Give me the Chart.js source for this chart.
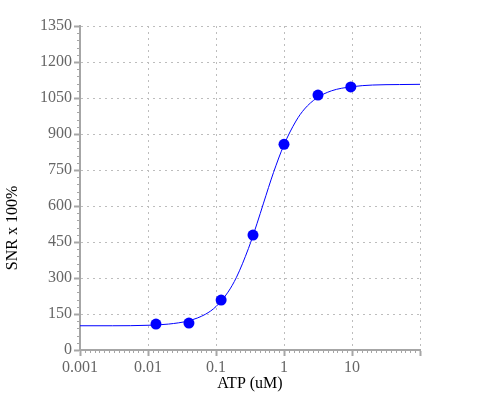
<!DOCTYPE html>
<html>
<head>
<meta charset="utf-8">
<script src="https://cdn.jsdelivr.net/npm/chart.js@4"></script>
<style>
  html, body { margin: 0; padding: 0; background: #fff; }
  #wrap { width: 500px; height: 400px; }
</style>
</head>
<body>
<div id="wrap"><canvas id="chart" width="500" height="400"></canvas></div>
<script>
// measured points
const atpConc = [0.0131, 0.040, 0.119, 0.35, 1.0, 3.16, 9.6];
const snr = [108, 112, 208, 479, 857, 1062, 1096];

// fitted curve
const fitConc = [0.001, 0.003, 0.01, 0.02, 0.04, 0.07, 0.1, 0.15, 0.2, 0.3, 0.4, 0.5, 0.7, 1, 1.5, 2, 3, 5, 10, 20, 50, 100];
const fitSnr = [101, 101, 103, 108, 122, 149, 181, 241, 303, 423, 526, 612, 739, 855, 954, 1004, 1049, 1080, 1097, 1104, 1106, 1107];

const xTicks = [0.001, 0.01, 0.1, 1, 10, 100];
const xTickLabels = ['0.001', '0.01', '0.1', '1', '10', ''];

const AXIS_GRAY = '#a6a6a6';
const GRID_GRAY = '#bdbdbd';

const axisDecor = {
  id: 'axisDecor',
  afterDraw(chart) {
    const { ctx, chartArea: a, scales } = chart;
    const x = scales.x, y = scales.y;
    ctx.save();
    // minor ticks
    ctx.strokeStyle = AXIS_GRAY;
    ctx.lineWidth = 1;
    ctx.setLineDash([]);
    ctx.beginPath();
    for (let i = 0; i < xTicks.length - 1; i++) {
      const p0 = x.getPixelForValue(xTicks[i]);
      const p1 = x.getPixelForValue(xTicks[i + 1]);
      for (let k = 1; k < 14; k++) {
        const px = Math.round(p0 + (p1 - p0) * k / 14) + 0.5;
        ctx.moveTo(px, a.bottom);
        ctx.lineTo(px, a.bottom + 3);
      }
    }
    for (let v = 0; v < 1350; v += 150) {
      const p0 = y.getPixelForValue(v), p1 = y.getPixelForValue(v + 150);
      for (let k = 1; k < 5; k++) {
        const py = Math.round(p0 + (p1 - p0) * k / 5) + 0.5;
        ctx.moveTo(a.left - 3, py);
        ctx.lineTo(a.left, py);
      }
    }
    ctx.stroke();
    // axis titles
    ctx.fillStyle = '#000';
    ctx.font = '16px "Liberation Serif", serif';
    ctx.textAlign = 'center';
    ctx.textBaseline = 'middle';
    ctx.fillText('ATP (uM)', (a.left + a.right) / 2, 384);
    ctx.translate(13, 228);
    ctx.rotate(-Math.PI / 2);
    ctx.fillText('SNR x 100%', 0, 0);
    ctx.restore();
  }
};

const gridOpts = {
  color: GRID_GRAY,
  tickLength: 6,
  tickColor: AXIS_GRAY,
  tickWidth: 2,
  tickBorderDash: [],
};
const borderOpts = { color: AXIS_GRAY, width: 2, dash: [2, 4] };

new Chart(document.getElementById('chart'), {
  type: 'scatter',
  data: {
    datasets: [
      {
        data: fitConc.map((c, i) => ({ x: c, y: fitSnr[i] })),
        showLine: true,
        borderColor: '#0000ff',
        borderWidth: 1,
        pointRadius: 0,
        cubicInterpolationMode: 'monotone',
        order: 2,
      },
      {
        data: atpConc.map((c, i) => ({ x: c, y: snr[i] })),
        backgroundColor: '#0000ff',
        borderWidth: 0,
        pointRadius: 5.5,
        order: 1,
      }
    ]
  },
  options: {
    responsive: false,
    animation: false,
    layout: { padding: { top: 26, right: 80, left: 0, bottom: 0 } },
    plugins: { legend: { display: false }, tooltip: { enabled: false } },
    scales: {
      x: {
        type: 'logarithmic',
        min: 0.001,
        max: 100,
        afterBuildTicks: s => { s.ticks = xTicks.map(v => ({ value: v })); },
        afterFit: s => { s.height = 50; },
        ticks: {
          autoSkip: false,
          maxRotation: 0,
          padding: 2,
          color: '#666',
          font: { family: '"Liberation Serif", serif', size: 16 },
          callback: (v, i) => xTickLabels[i],
        },
        grid: gridOpts,
        border: borderOpts,
      },
      y: {
        min: 0,
        max: 1350,
        afterFit: s => { s.width = 80; },
        ticks: {
          stepSize: 150,
          padding: 2,
          color: '#666',
          font: { family: '"Liberation Serif", serif', size: 16 },
          callback: v => String(v),
        },
        grid: gridOpts,
        border: borderOpts,
      }
    }
  },
  plugins: [axisDecor]
});
</script>
</body>
</html>
